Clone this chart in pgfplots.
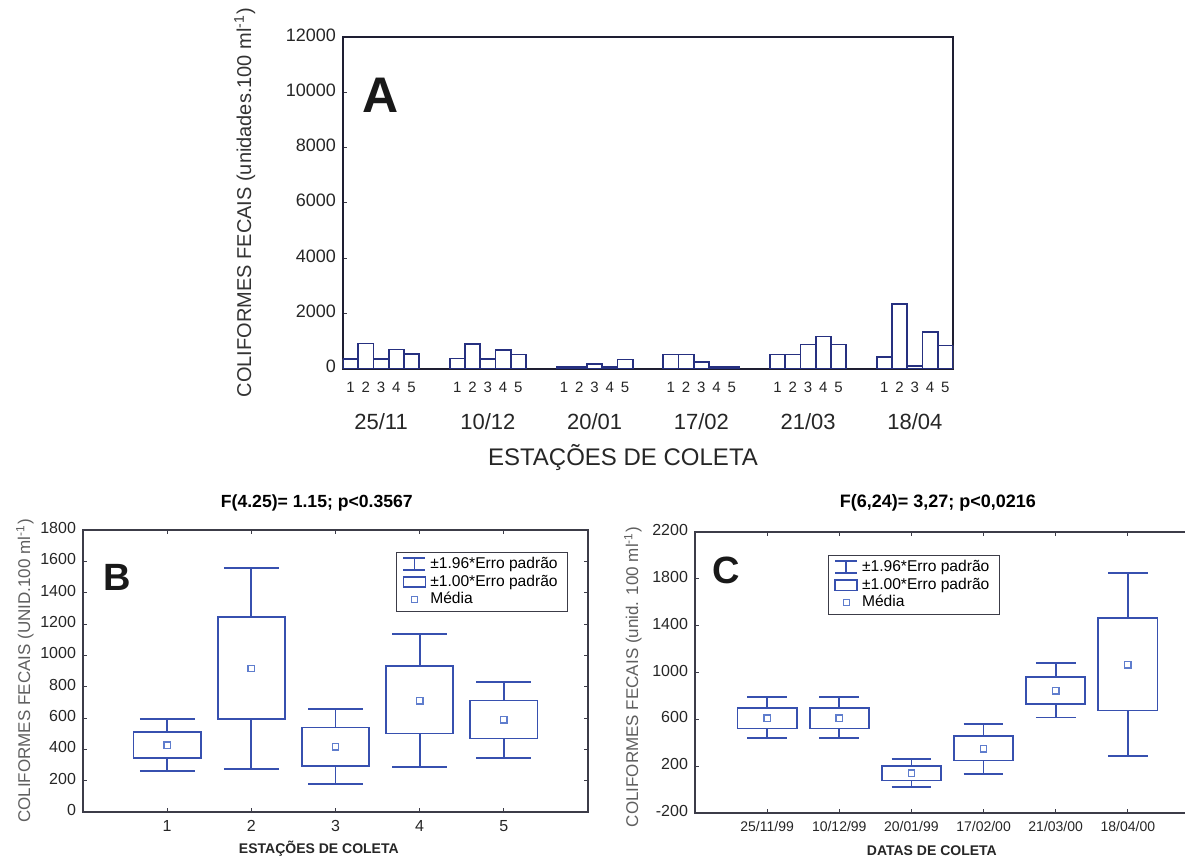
\documentclass[border=0pt]{standalone}
\usepackage{fontspec}
\setmainfont{Liberation Sans}
\usepackage{pgfplots}
\pgfplotsset{compat=1.18}
\usepgfplotslibrary{statistics}

\definecolor{barnavy}{RGB}{38,48,128}
\definecolor{boxblue}{RGB}{55,80,175}
\definecolor{meanblue}{RGB}{95,125,205}
\definecolor{frameA}{RGB}{30,30,50}
\definecolor{frameBC}{RGB}{60,60,72}
\definecolor{labgray}{RGB}{95,95,95}

\pgfplotsset{
  panel/.style={
    scale only axis, anchor=south west,
    /pgf/number format/assume math mode=true,
    /pgf/number format/1000 sep={},
    scaled y ticks=false,
    tick align=inside, major tick length=2pt,
    tick style={frameBC, line width=0.5pt},
    boxplot/draw direction=y,
    boxplot/draw/median/.code={},
    legend cell align=left,
    typeset ticklabels with strut,
  },
  legwhisk/.style={legend image code/.code={\draw[boxblue,line width=0.8pt] (0pt,3.3pt)--(11pt,3.3pt) (5.5pt,3.3pt)--(5.5pt,-2.6pt) (0pt,-2.6pt)--(11pt,-2.6pt);}},
  legbox/.style={legend image code/.code={\draw[boxblue,line width=0.8pt] (0pt,-2.6pt) rectangle (11pt,2.6pt);}},
  legmean/.style={legend image code/.code={\draw[meanblue,line width=0.7pt] (4pt,-1.5pt) rectangle (7pt,1.5pt);}},
}

\begin{document}
\begin{tikzpicture}
\useasboundingbox (0,0) rectangle (592.5pt,429.5pt);

% ---------------- Panel A ----------------
\begin{axis}[panel,
  at={(171.5pt,245.25pt)}, width=305pt, height=165.75pt,
  axis line style={frameA, line width=1pt},
  xmin=-0.5, xmax=39.5, ymin=0, ymax=12000,
  ytick={0,2000,4000,6000,8000,10000,12000},
  yticklabel style={font=\fontsize{9}{10}\selectfont, color=black!85},
  xtick={0,1,2,3,4,7,8,9,10,11,14,15,16,17,18,21,22,23,24,25,28,29,30,31,32,35,36,37,38,39},
  xticklabels={1,2,3,4,5,1,2,3,4,5,1,2,3,4,5,1,2,3,4,5,1,2,3,4,5,1,2,3,4,5},
  xtick style={draw=none},
  xticklabel style={font=\fontsize{7.5}{8}\selectfont, yshift=-3pt, color=black!85},
  extra x ticks={2,9,16,23,30,37},
  extra x tick labels={25/11,10/12,20/01,17/02,21/03,18/04},
  extra x tick style={xticklabel style={font=\fontsize{11}{12}\selectfont, yshift=-15.5pt}},
  xlabel={ESTAÇÕES DE COLETA},
  xlabel style={at={(axis description cs:0.459,-0.267)}, anchor=center, font=\fontsize{12}{13}\selectfont, color=black!85},
  ylabel={COLIFORMES FECAIS (unidades.100 ml\textsuperscript{-1})},
  ylabel style={at={(axis description cs:-0.161,0.5)}, anchor=center, font=\fontsize{10}{11}\selectfont, color=black!80},
  ytick pos=left,
]
\addplot[ybar, bar width=1, draw=barnavy, fill=white, line width=0.9pt] coordinates {
  (0,350) (1,906) (2,350) (3,689) (4,531)
  (7,362) (8,894) (9,350) (10,676) (11,507)
  (14,48) (15,48) (16,169) (17,60) (18,326)
  (21,507) (22,507) (23,230) (24,60) (25,60)
  (28,507) (29,507) (30,870) (31,1160) (32,870)
  (35,411) (36,2343) (37,85) (38,1317) (39,834)
};
\node[font=\bfseries\fontsize{25}{26}\selectfont, color=black!90] at (rel axis cs:0.061,0.825) {A};
\end{axis}

% ---------------- Panel B ----------------
\begin{axis}[panel,
  at={(41.5pt,23.5pt)}, width=252.5pt, height=141pt,
  axis line style={frameBC, line width=0.6pt},
  xmin=0, xmax=6, ymin=0, ymax=1800,
  xtick={1,2,3,4,5},
  ytick={0,200,400,600,800,1000,1200,1400,1600,1800},
  tick label style={font=\fontsize{8}{9}\selectfont, color=black!85},
  boxplot/box extend=0.8, boxplot/whisker extend=0.65,
  title={F(4.25)= 1.15; p<0.3567},
  title style={at={(axis description cs:0.463,1.096)}, anchor=center, yshift=-6pt, font=\bfseries\fontsize{8.8}{10}\selectfont},
  xlabel={ESTAÇÕES DE COLETA},
  xlabel style={at={(axis description cs:0.467,-0.131)}, anchor=center, font=\bfseries\fontsize{7}{8}\selectfont, color=black!85},
  ylabel={COLIFORMES FECAIS (UNID.100 ml\textsuperscript{-1})},
  ylabel style={at={(axis description cs:-0.115,0.5)}, anchor=center, font=\fontsize{8.5}{9}\selectfont, color=labgray},
  legend style={at={(axis description cs:0.62,0.922)}, anchor=north west, draw=frameBC, line width=0.6pt,
    font=\fontsize{7.8}{8}\selectfont, inner xsep=3pt, inner ysep=0.5pt, row sep=-2.5pt},
]
\addlegendimage{legwhisk}\addlegendentry{±1.96*Erro padrão}
\addlegendimage{legbox}\addlegendentry{±1.00*Erro padrão}
\addlegendimage{legmean}\addlegendentry{Média}
\addplot[boxblue, line width=0.9pt, forget plot, boxplot prepared={draw position=1, lower whisker=263, lower quartile=347, median=426, upper quartile=511, upper whisker=592}] coordinates {};
\addplot[boxblue, line width=0.9pt, forget plot, boxplot prepared={draw position=2, lower whisker=277, lower quartile=592, median=916, upper quartile=1246, upper whisker=1559}] coordinates {};
\addplot[boxblue, line width=0.9pt, forget plot, boxplot prepared={draw position=3, lower whisker=177, lower quartile=296, median=415, upper quartile=539, upper whisker=658}] coordinates {};
\addplot[boxblue, line width=0.9pt, forget plot, boxplot prepared={draw position=4, lower whisker=288, lower quartile=501, median=709, upper quartile=931, upper whisker=1138}] coordinates {};
\addplot[boxblue, line width=0.9pt, forget plot, boxplot prepared={draw position=5, lower whisker=345, lower quartile=469, median=588, upper quartile=712, upper whisker=831}] coordinates {};
\addplot[only marks, mark=square, mark size=1.6pt, mark options={meanblue, line width=0.7pt}, forget plot] coordinates {
  (1,426) (2,916) (3,415) (4,709) (5,588)
};
\node[font=\bfseries\fontsize{19}{20}\selectfont, color=black!90] at (rel axis cs:0.067,0.833) {B};
\end{axis}

% ---------------- Panel C ----------------
\begin{axis}[panel,
  at={(347.5pt,23pt)}, width=252.5pt, height=140.5pt,
  axis line style={frameBC, line width=0.6pt},
  xmin=0, xmax=7, ymin=-200, ymax=2200,
  xtick={1,2,3,4,5,6},
  xticklabels={25/11/99,10/12/99,20/01/99,17/02/00,21/03/00,18/04/00},
  ytick={-200,200,600,1000,1400,1800,2200},
  tick label style={font=\fontsize{8}{9}\selectfont, color=black!85},
  xticklabel style={font=\fontsize{7}{8}\selectfont},
  boxplot/box extend=0.82, boxplot/whisker extend=0.55,
  title={F(6,24)= 3,27; p<0,0216},
  title style={at={(axis description cs:0.481,1.103)}, anchor=center, yshift=-6pt, font=\bfseries\fontsize{9}{10}\selectfont},
  xlabel={DATAS DE COLETA},
  xlabel style={at={(axis description cs:0.469,-0.135)}, anchor=center, font=\bfseries\fontsize{7}{8}\selectfont, color=black!85},
  ylabel={COLIFORMES FECAIS (unid. 100 ml\textsuperscript{-1})},
  ylabel style={at={(axis description cs:-0.123,0.484)}, anchor=center, font=\fontsize{8.5}{9}\selectfont, color=labgray},
  legend style={at={(axis description cs:0.263,0.918)}, anchor=north west, draw=frameBC, line width=0.6pt,
    font=\fontsize{7.8}{8}\selectfont, inner xsep=3pt, inner ysep=0.5pt, row sep=-2.5pt},
]
\addlegendimage{legwhisk}\addlegendentry{±1.96*Erro padrão}
\addlegendimage{legbox}\addlegendentry{±1.00*Erro padrão}
\addlegendimage{legmean}\addlegendentry{Média}
\addplot[boxblue, line width=0.9pt, forget plot, boxplot prepared={draw position=1, lower whisker=439, lower quartile=521, median=609, upper quartile=695, upper whisker=791}] coordinates {};
\addplot[boxblue, line width=0.9pt, forget plot, boxplot prepared={draw position=2, lower whisker=439, lower quartile=521, median=609, upper quartile=695, upper whisker=791}] coordinates {};
\addplot[boxblue, line width=0.9pt, forget plot, boxplot prepared={draw position=3, lower whisker=24, lower quartile=78, median=141, upper quartile=203, upper whisker=263}] coordinates {};
\addplot[boxblue, line width=0.9pt, forget plot, boxplot prepared={draw position=4, lower whisker=135, lower quartile=249, median=348, upper quartile=456, upper whisker=561}] coordinates {};
\addplot[boxblue, line width=0.9pt, forget plot, boxplot prepared={draw position=5, lower whisker=615, lower quartile=732, median=845, upper quartile=964, upper whisker=1078}] coordinates {};
\addplot[boxblue, line width=0.9pt, forget plot, boxplot prepared={draw position=6, lower whisker=286, lower quartile=675, median=1067, upper quartile=1467, upper whisker=1851}] coordinates {};
\addplot[only marks, mark=square, mark size=1.6pt, mark options={meanblue, line width=0.7pt}, forget plot] coordinates {
  (1,609) (2,609) (3,141) (4,348) (5,845) (6,1067)
};
\node[font=\bfseries\fontsize{19}{20}\selectfont, color=black!90] at (rel axis cs:0.061,0.865) {C};
\end{axis}
\end{tikzpicture}
\end{document}
